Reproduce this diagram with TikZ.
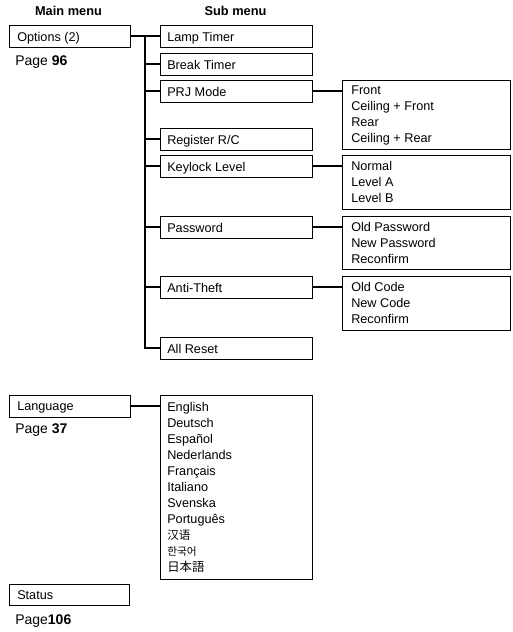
\documentclass[tikz,border=0pt]{standalone}
\usepackage{fontspec}
\setmainfont{Liberation Sans}
\newfontfamily\cjksc{Noto Sans CJK SC}
\newfontfamily\cjkkr{Noto Sans CJK KR}
\newfontfamily\cjkjp{Noto Sans CJK JP}
\begin{document}
\begin{tikzpicture}[x=0.75pt,y=-0.75pt,
  mainbox/.style={draw, line width=0.75pt, inner sep=0pt, outer sep=0pt, anchor=north west, minimum width=121*0.75pt, minimum height=22*0.75pt},
  subbox/.style={mainbox, minimum width=152*0.75pt, minimum height=22*0.75pt},
  listbox/.style={draw, line width=0.75pt, inner sep=0pt, outer sep=0pt, anchor=north west, minimum width=168*0.75pt},
  txt/.style={anchor=base west, inner sep=0pt, font=\fontsize{9.5}{12}\selectfont},
  listtxt/.style={anchor=north west, inner sep=0pt, align=left, font=\fontsize{9.5}{12}\selectfont},
  pagetxt/.style={anchor=base west, inner sep=0pt, font=\fontsize{10.5}{12}\selectfont},
  head/.style={anchor=base, inner sep=0pt, font=\fontsize{9.6}{12}\selectfont\bfseries},
  conn/.style={line width=1.2pt}
]
\useasboundingbox (0,0) rectangle (512,632);

% headings
\node[head] (hmain) at (68.5,15.7) {Main menu};
\node[head] (hsub) at (235.5,15.7) {Sub menu};

% Options
\node[mainbox] (opt) at (9,25) {};
\node[txt] (optT) at (17,41) {Options (2)};
\node[pagetxt] (p96) at (15,65) {Page \textbf{96}};

% sub menu boxes
\node[subbox] (lamp) at (160,25) {};
\node[txt] (lampT) at (167,41) {Lamp Timer};
\node[subbox] (brk) at (160,53) {};
\node[txt] (brkT) at (167,69) {Break Timer};
\node[subbox] (prj) at (160,80) {};
\node[txt] (prjX) at (167,96) {PRJ Mode};
\node[subbox] (reg) at (160,128) {};
\node[txt] (regT) at (167,144) {Register R/C};
\node[subbox] (key) at (160,155) {};
\node[txt] (keyX) at (167,171) {Keylock Level};
\node[subbox] (pwd) at (160,216) {};
\node[txt] (pwdX) at (167,232) {Password};
\node[subbox] (anti) at (160,276) {};
\node[txt] (antiX) at (167,292) {Anti-Theft};
\node[subbox] (reset) at (160,337) {};
\node[txt] (resetT) at (167,353) {All Reset};

% option lists
\node[listbox, minimum height=69*0.75pt] (prjL) at (342,80) {};
\node[listtxt] (prjT) at (351,86) {Front\\Ceiling + Front\\Rear\\Ceiling + Rear};
\node[listbox, minimum height=54*0.75pt] (keyL) at (342,155) {};
\node[listtxt] (keyT) at (351,161) {Normal\\Level A\\Level B};
\node[listbox, minimum height=53*0.75pt] (pwdL) at (342,216) {};
\node[listtxt] (pwdT) at (351,222.5) {Old Password\\New Password\\Reconfirm};
\node[listbox, minimum height=54*0.75pt] (antiL) at (342,276) {};
\node[listtxt] (antiT) at (351,282) {Old Code\\New Code\\Reconfirm};

% Language
\node[mainbox] (lang) at (9,395) {};
\node[txt] (langT) at (17,410) {Language};
\node[pagetxt] (p37) at (15,433) {Page \textbf{37}};
\node[listbox, minimum width=152*0.75pt, minimum height=184*0.75pt] (langL) at (160,395) {};
\node[listtxt] (langX) at (167,401.7) {English\\Deutsch\\Español\\Nederlands\\Français\\Italiano\\Svenska\\Português\\{\cjksc\fontsize{8.7}{12}\selectfont 汉语}\\{\cjkkr\fontsize{8}{12}\selectfont 한국어}\\{\cjkjp\fontsize{9.3}{12}\selectfont 日本語}};

% Status
\node[mainbox, minimum width=120*0.75pt, minimum height=21*0.75pt] (stat) at (9,584) {};
\node[txt] (statT) at (17,599) {Status};
\node[pagetxt] (p106) at (15,624) {Page\textbf{106}};

% connectors
\coordinate (tx) at (145,0);
\draw[conn] (opt.east) -- (opt.east -| tx) -- (reset.west -| tx) -- (reset.west);
\foreach \b in {lamp,brk,prj,reg,key,pwd,anti} \draw[conn] (\b.west -| tx) -- (\b.west);
\draw[conn] (prj.east) -- (prj.east -| prjL.west);
\draw[conn] (key.east) -- (key.east -| keyL.west);
\draw[conn] (pwd.east) -- (pwd.east -| pwdL.west);
\draw[conn] (anti.east) -- (anti.east -| antiL.west);
\draw[conn] (lang.east) -- (lang.east -| langL.west);
\end{tikzpicture}
\end{document}
